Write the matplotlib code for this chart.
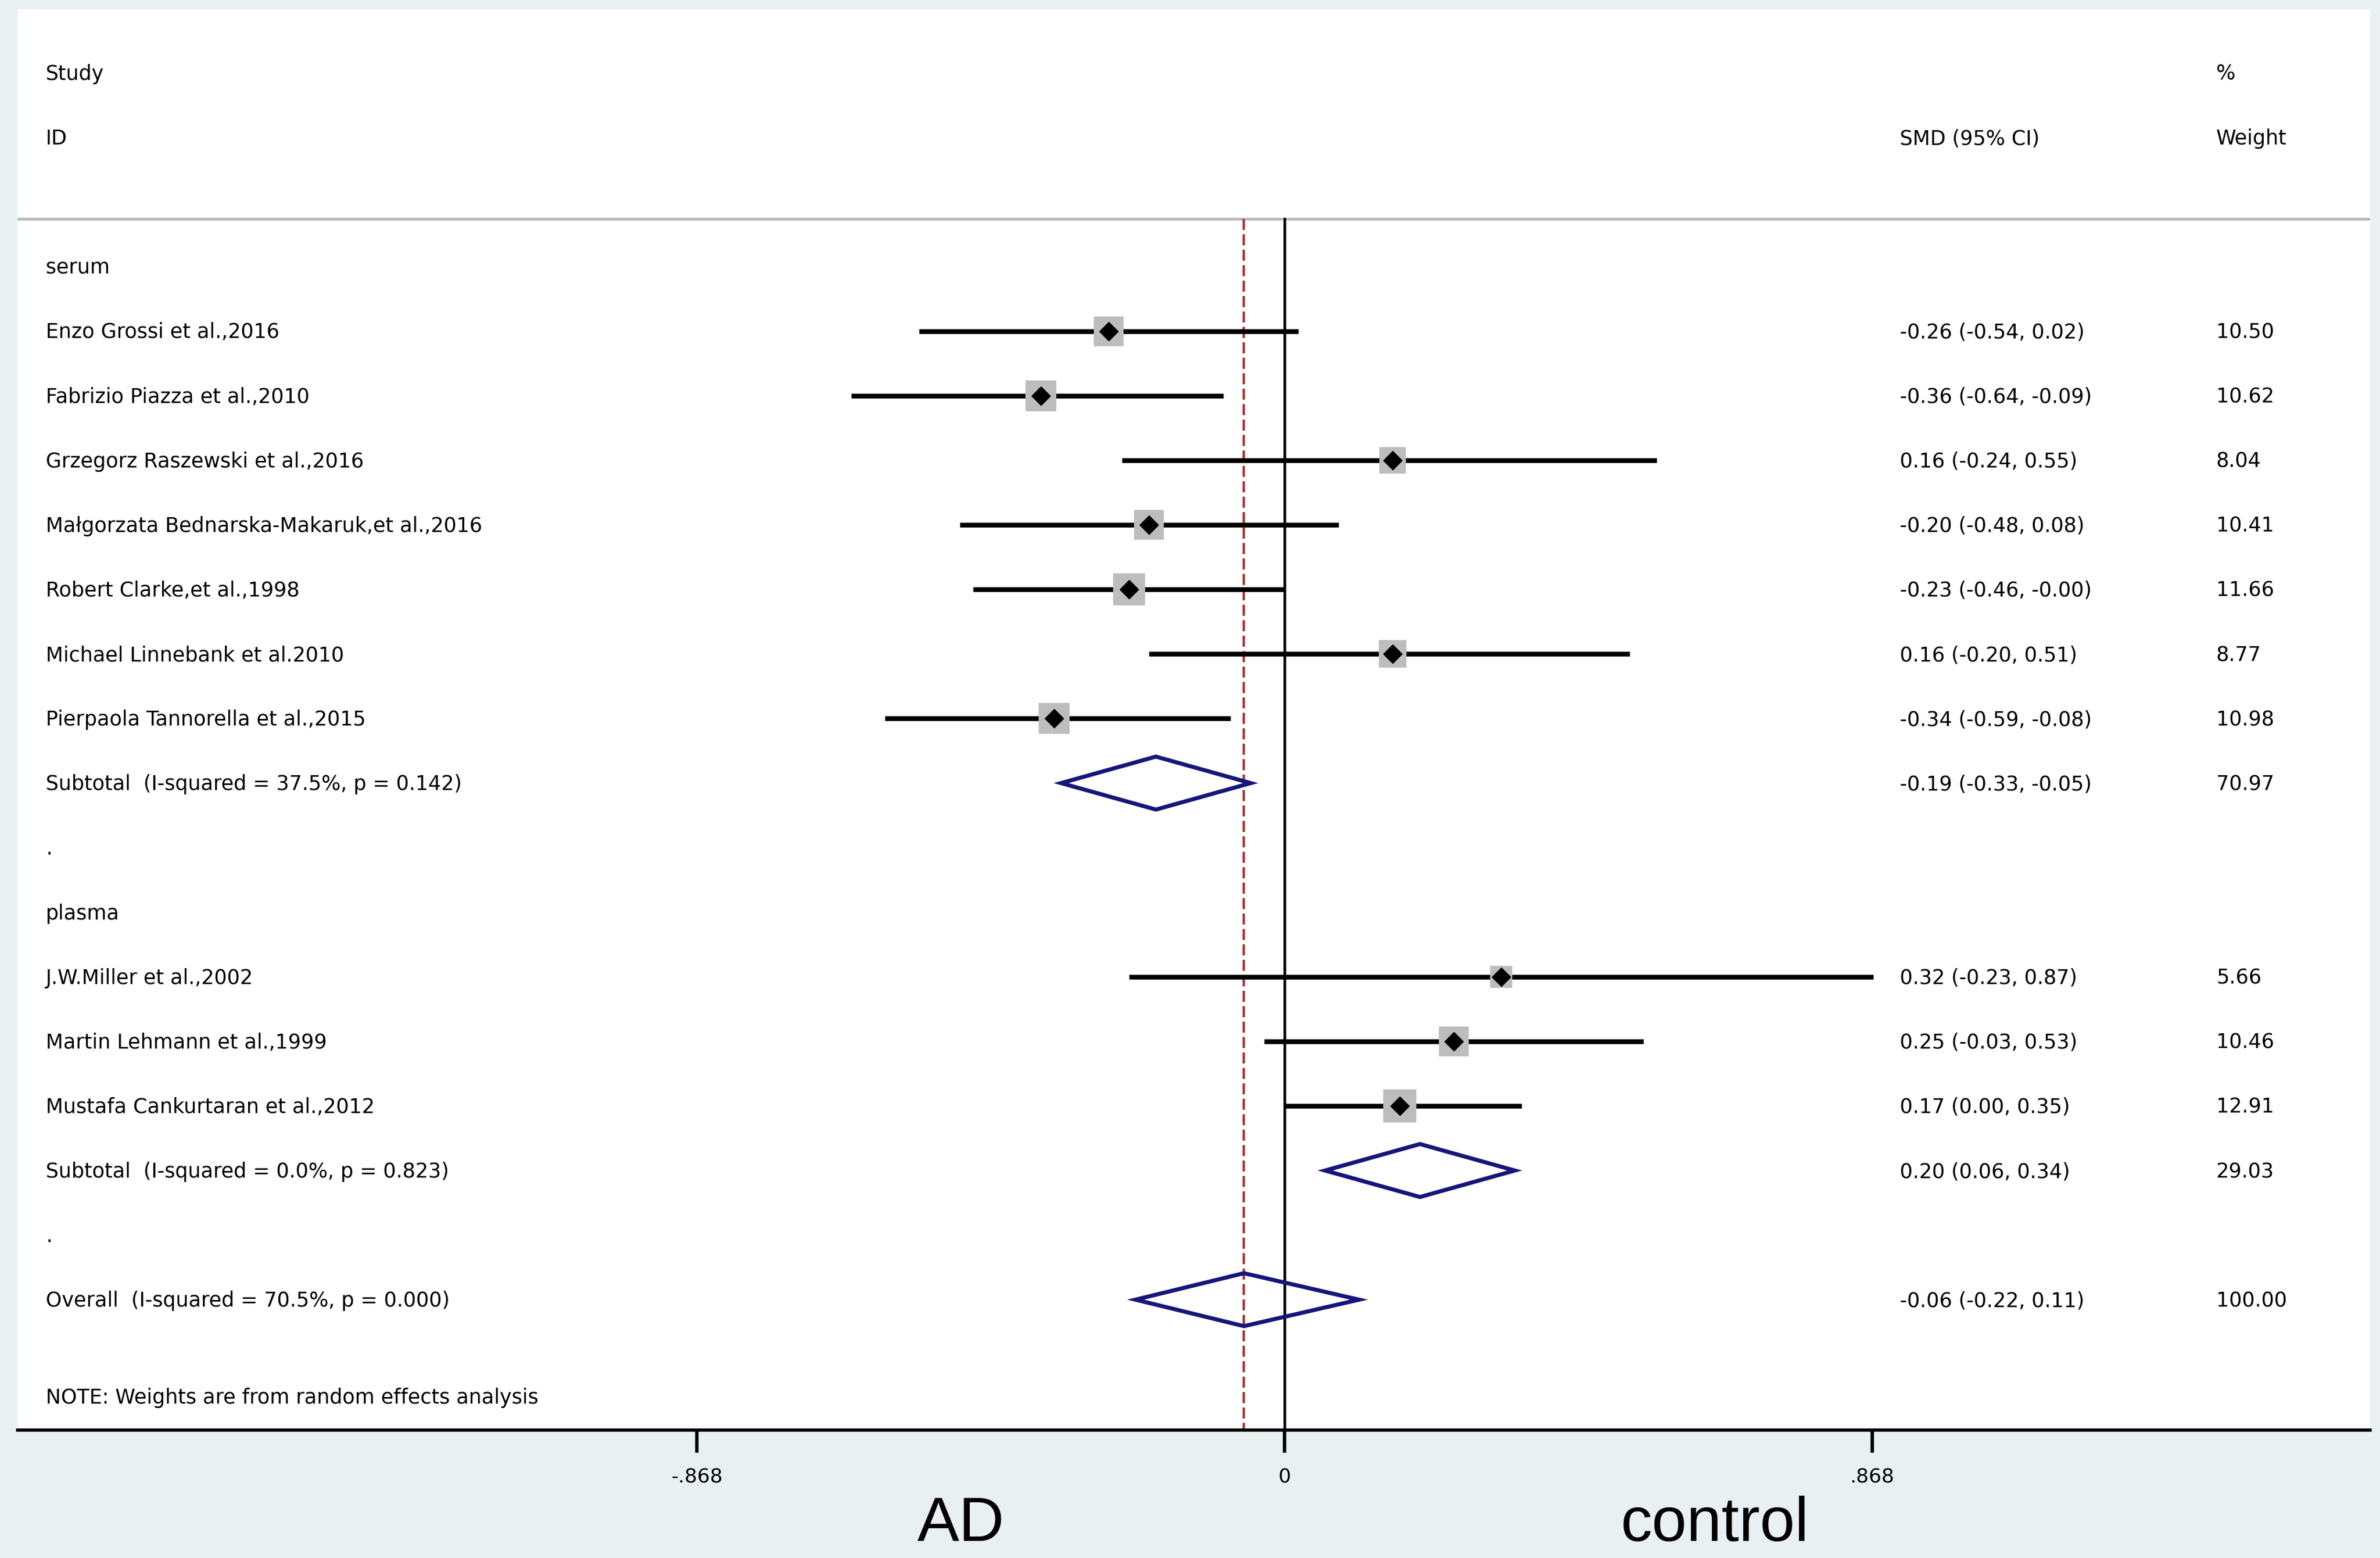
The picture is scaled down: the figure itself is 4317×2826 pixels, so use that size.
import numpy as np
import matplotlib
matplotlib.use('Agg')
from matplotlib import pyplot as plt
from matplotlib.patches import Polygon

# the table text in the original is quite wide, DejaVu matches its proportions best
plt.rcParams['font.family'] = ['DejaVu Sans']

# serum studies
serum_names = ['Enzo Grossi et al.,2016',
               'Fabrizio Piazza et al.,2010',
               'Grzegorz Raszewski et al.,2016',
               'Małgorzata Bednarska-Makaruk,et al.,2016',
               'Robert Clarke,et al.,1998',
               'Michael Linnebank et al.2010',
               'Pierpaola Tannorella et al.,2015']
serum_smd = [-0.26, -0.36, 0.16, -0.20, -0.23, 0.16, -0.34]
serum_lo = [-0.54, -0.64, -0.24, -0.48, -0.46, -0.20, -0.59]
serum_hi = [0.02, -0.09, 0.55, 0.08, -0.00, 0.51, -0.08]
serum_w = [10.50, 10.62, 8.04, 10.41, 11.66, 8.77, 10.98]

# plasma studies
plasma_names = ['J.W.Miller et al.,2002',
                'Martin Lehmann et al.,1999',
                'Mustafa Cankurtaran et al.,2012']
plasma_smd = [0.32, 0.25, 0.17]
plasma_lo = [-0.23, -0.03, 0.00]
plasma_hi = [0.87, 0.53, 0.35]
plasma_w = [5.66, 10.46, 12.91]

# pooled estimates
sub_labels = ['Subtotal  (I-squared = 37.5%, p = 0.142)',
              'Subtotal  (I-squared = 0.0%, p = 0.823)']
sub_smd = [-0.19, 0.20]
sub_lo = [-0.33, 0.06]
sub_hi = [-0.05, 0.34]
sub_w = [70.97, 29.03]

overall_label = 'Overall  (I-squared = 70.5%, p = 0.000)'
overall_smd = -0.06
overall_lo = -0.22
overall_hi = 0.11
overall_w = 100.00

tick_vals = [-0.868, 0, 0.868]
tick_labels = ['-.868', '0', '.868']

# build the row list (one row per line of the table)
rows = []
rows.append(('group', 'serum', None, None, None, None))
for i in range(len(serum_names)):
    rows.append(('study', serum_names[i], serum_smd[i], serum_lo[i], serum_hi[i], serum_w[i]))
rows.append(('pooled', sub_labels[0], sub_smd[0], sub_lo[0], sub_hi[0], sub_w[0]))
rows.append(('group', '.', None, None, None, None))
rows.append(('group', 'plasma', None, None, None, None))
for i in range(len(plasma_names)):
    rows.append(('study', plasma_names[i], plasma_smd[i], plasma_lo[i], plasma_hi[i], plasma_w[i]))
rows.append(('pooled', sub_labels[1], sub_smd[1], sub_lo[1], sub_hi[1], sub_w[1]))
rows.append(('group', '.', None, None, None, None))
rows.append(('pooled', overall_label, overall_smd, overall_lo, overall_hi, overall_w))

fs = 26.5
x_name = -1.830
x_ci = 0.909
x_wt = 1.376
base = 0.11   # shift from row centre to text baseline
y_head_line = 2.26
y_bottom = 21.02

fig = plt.figure(figsize=(4317 / 100, 2826 / 100), dpi=100, facecolor='#e8f0f2')
ax = fig.add_axes([0.00741, 0.08209, 0.98842, 0.91189])
ax.set_facecolor('white')
ax.set_xlim(-1.8713, 1.6034)
ax.set_ylim(y_bottom, -0.982)

for s in ['top', 'left', 'right']:
    ax.spines[s].set_visible(False)
ax.spines['bottom'].set_linewidth(4.2)
ax.set_yticks([])
ax.set_xticks(tick_vals, tick_labels)
ax.tick_params(axis='x', direction='out', length=29.5, width=4.5, pad=19, labelsize=26)

# header
ax.text(x_name, 0 + base, 'Study', fontsize=fs, va='baseline')
ax.text(x_name, 1 + base, 'ID', fontsize=fs, va='baseline')
ax.text(x_wt, 0 + base, '%', fontsize=fs, va='baseline')
ax.text(x_ci, 1 + base, 'SMD (95% CI)', fontsize=fs, va='baseline')
ax.text(x_wt, 1 + base, 'Weight', fontsize=fs, va='baseline')
ax.axhline(y_head_line, color='#bababa', lw=3.6)

# reference lines
ax.plot([0, 0], [y_head_line, y_bottom], color='black', lw=3.5, zorder=2)
ax.plot([overall_smd, overall_smd], [y_head_line, y_bottom], color='#a3363b', lw=3.2,
        linestyle=(0, (4.5, 1.8)), zorder=2)

box_scale = 149.3
h = 0.41
y = 3
for kind, label, est, lo, hi, w in rows:
    ax.text(x_name, y + base, label, fontsize=fs, va='baseline')
    if kind == 'study':
        ax.plot([lo, hi], [y, y], color='black', lw=6.2, solid_capstyle='butt', zorder=3)
        ax.scatter([est], [y], s=box_scale * w, marker='s', color='#bdbdbd', linewidths=0, zorder=4)
        ax.plot([est], [y], marker='D', markersize=17, color='black', zorder=5)
    if kind == 'pooled':
        diamond = Polygon([(lo, y), (est, y - h), (hi, y), (est, y + h)], closed=True,
                          fill=False, edgecolor='#16167a', lw=5.3, joinstyle='miter', zorder=5)
        ax.add_patch(diamond)
    if est is not None:
        ax.text(x_ci, y + base, '%.2f (%.2f, %.2f)' % (est, lo, hi), fontsize=fs, va='baseline')
        ax.text(x_wt, y + base, '%.2f' % w, fontsize=fs, va='baseline')
    y += 1

ax.text(x_name, 20.5 + base, 'NOTE: Weights are from random effects analysis', fontsize=fs, va='baseline')

# group labels under the axis
ax.text(-0.478, 22.74, 'AD', fontsize=82, family='Liberation Sans', ha='center', va='baseline', clip_on=False)
ax.text(0.635, 22.74, 'control', fontsize=82, family='Liberation Sans', ha='center', va='baseline', clip_on=False)

fig.savefig('out.png', dpi=100, facecolor=fig.get_facecolor())
